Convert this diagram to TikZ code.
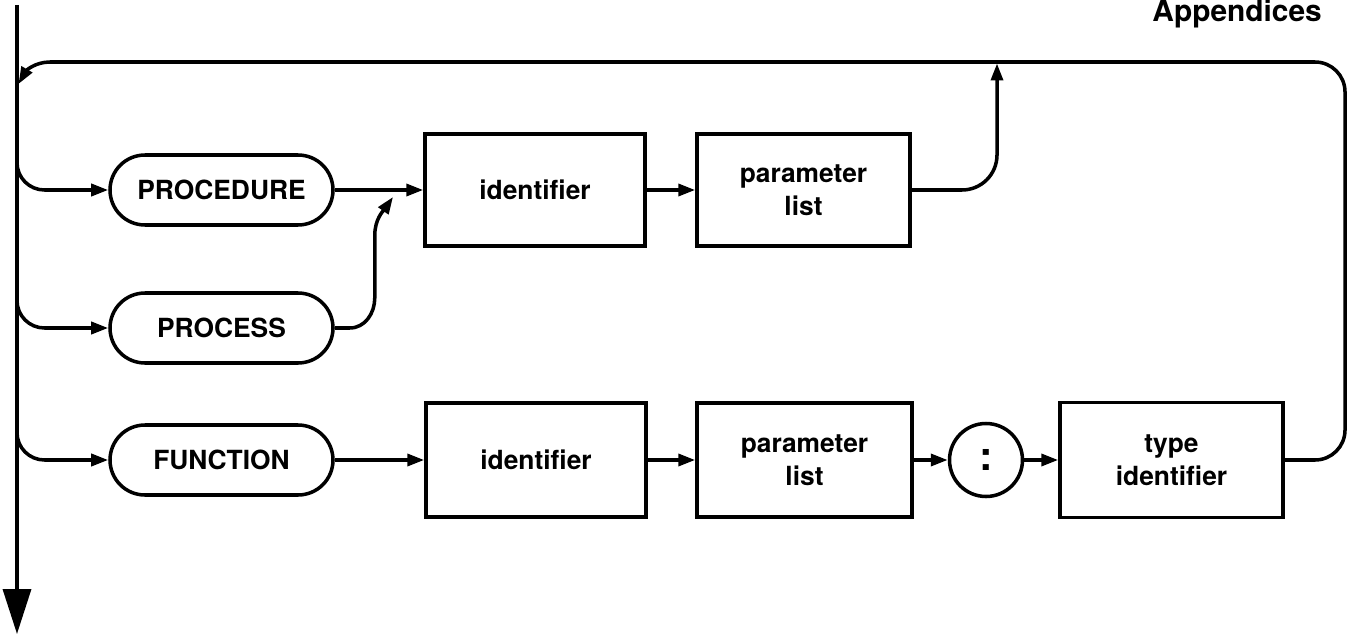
\documentclass[tikz,border=0pt]{standalone}
\usepackage{fontspec}
\setmainfont{TeX Gyre Heros}
\usetikzlibrary{arrows.meta}
\tikzset{
  wire/.style={line width=2pt},
  arr/.style={wire, -{Triangle[length=0.34cm,width=0.24cm]}},
  keyword/.style={draw, wire, rounded corners=0.7cm, minimum width=4.46cm, minimum height=1.4cm,
    font=\fontsize{15}{18}\selectfont\bfseries},
  syntbox/.style={draw, wire, minimum width=4.4cm, minimum height=2.24cm, align=center,
    font=\fontsize{15}{19}\selectfont\bfseries},
}
\begin{document}
\begin{tikzpicture}
    \useasboundingbox (0,0) rectangle (27,12.72);
    \node[anchor=base east, font=\fontsize{17}{20}\selectfont\bfseries] (appx) at (26.56,12.29) {Appendices};

    \node[keyword] (procedure) at (4.43,8.92) {PROCEDURE};
    \node[keyword] (process) at (4.43,6.16) {PROCESS};
    \node[keyword] (function) at (4.43,3.52) {FUNCTION};
    \node[syntbox] (ident1) at (10.70,8.92) {identifier};
    \node[syntbox, minimum width=4.26cm] (param1) at (16.07,8.92) {parameter\\list};
    \node[syntbox, minimum height=2.28cm] (ident2) at (10.72,3.52) {identifier};
    \node[syntbox, minimum width=4.3cm, minimum height=2.28cm] (param2) at (16.09,3.52) {parameter\\list};
    \node[draw, wire, circle, minimum size=1.46cm, inner sep=0pt,
      font=\fontsize{23}{23}\selectfont\bfseries] (colon) at (19.72,3.52) {:};
    \node[syntbox, minimum width=4.46cm, minimum height=2.3cm] (typeid) at (23.43,3.52) {type\\identifier};

    \coordinate (top) at (0.34,12.62);
    \coordinate (bottom) at (0.34,0.04);
    \coordinate (merge) at (7.86,8.78);
    \coordinate (upjoin) at (19.94,11.45);
    \coordinate (ne) at (26.9,11.48);
    \coordinate (nw) at (1.0,11.48);
    \coordinate (loopend) at (0.37,11.04);

    \draw[wire, -{Triangle[length=0.9cm,width=0.56cm]}] (top) -- (bottom);
    \foreach \n in {procedure,process,function}
        \draw[arr, rounded corners=0.55cm] ([yshift=0.6cm]top |- \n.west) |- (\n.west);

    \draw[arr] (procedure.east) -- (ident1.west);
    \draw[arr] (ident1.east) -- (param1.west);
    \draw[arr] (process.east) -- ++(0.3,0) to[out=0,in=-90] ++(0.5,0.6) -- ++(0,1.25)
        to[out=90,in=235] (merge);
    \draw[arr, rounded corners=0.7cm] (param1.east) -| (upjoin);

    \draw[arr] (function.east) -- (ident2.west);
    \draw[arr] (ident2.east) -- (param2.west);
    \draw[arr] (param2.east) -- (colon.west);
    \draw[arr] (colon.east) -- (typeid.west);
    \draw[wire, rounded corners=0.6cm] (typeid.east) -| (ne) -- (nw);
    \draw[arr] (nw) to[out=180,in=60] (loopend);
\end{tikzpicture}
\end{document}
